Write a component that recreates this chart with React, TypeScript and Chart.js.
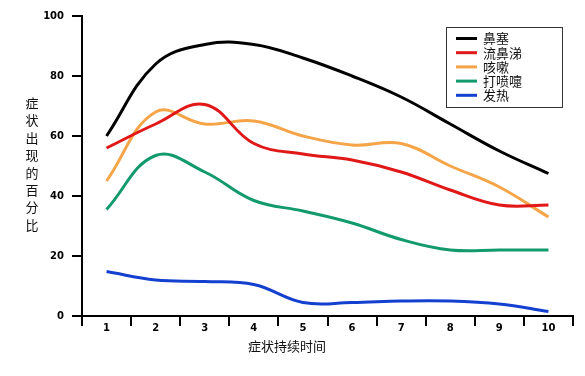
import React, { useEffect, useRef } from 'react';
import { Chart, registerables } from 'chart.js';

Chart.register(...registerables);

const categories = ['1', '2', '3', '4', '5', '6', '7', '8', '9', '10'];
const yTicks = [0, 20, 40, 60, 80, 100];

const seriesNames = ['鼻塞', '流鼻涕', '咳嗽', '打喷嚏', '发热'];
const nasalCongestion = [60, 84, 90.5, 90.5, 86, 80, 73, 64, 55, 47.5];
const runnyNose = [56, 64, 70.5, 57.5, 54, 52, 48, 42, 37, 37];
const cough = [45, 68, 64, 65, 60, 57, 57.5, 50, 43, 33];
const sneezing = [35.5, 53.5, 48, 38.5, 35, 31, 25.5, 22, 22, 22];
const fever = [14.8, 12, 11.5, 10.5, 4.5, 4.5, 5, 5, 4, 1.5];

const colors = ['#000000', '#e01818', '#f5a548', '#139a6c', '#1440d0'];

const yTitle = '症状出现的百分比';
const xTitle = '症状持续时间';

const CJK = '"Noto Sans CJK SC", sans-serif';

const decorPlugin = {
  id: 'decor',
  afterDraw(chart: any) {
    const ctx = chart.ctx;
    ctx.save();
    ctx.fillStyle = '#111';
    ctx.font = `13px ${CJK}`;
    ctx.textAlign = 'center';
    ctx.textBaseline = 'middle';
    // vertical y title
    const chars = Array.from(yTitle);
    chars.forEach((c, i) => {
      ctx.fillText(c, 32, 103 + i * 17.4);
    });
    // x title
    ctx.fillText(xTitle, 287, 346);

    // legend
    const bx = 446, by = 27, bw = 116, bh = 80;
    ctx.fillStyle = '#ffffff';
    ctx.fillRect(bx, by, bw, bh);
    ctx.strokeStyle = '#333';
    ctx.lineWidth = 1;
    ctx.strokeRect(bx + 0.5, by + 0.5, bw, bh);
    ctx.textAlign = 'left';
    seriesNames.forEach((name, i) => {
      const y = 38.5 + i * 14.2;
      ctx.strokeStyle = colors[i];
      ctx.lineWidth = 3;
      ctx.beginPath();
      ctx.moveTo(456, y);
      ctx.lineTo(477, y);
      ctx.stroke();
      ctx.fillStyle = '#111';
      ctx.fillText(name, 483, y);
    });
    ctx.restore();
  },
};

export default function App() {
  const ref = useRef<HTMLCanvasElement>(null);

  useEffect(() => {
    if (!ref.current) return;
    const data = [nasalCongestion, runnyNose, cough, sneezing, fever];
    const chart = new Chart(ref.current, {
      type: 'line',
      data: {
        labels: categories,
        datasets: data.map((d, i) => ({
          label: seriesNames[i],
          data: d,
          borderColor: colors[i],
          backgroundColor: colors[i],
          borderWidth: 3,
          pointRadius: 0,
          tension: 0.4,
          fill: false,
        })),
      },
      options: {
        animation: false,
        responsive: false,
        maintainAspectRatio: false,
        layout: { padding: { top: 16, right: 12, left: 0, bottom: 0 } },
        plugins: {
          legend: { display: false },
          tooltip: { enabled: false },
          title: { display: false },
        },
        scales: {
          x: {
            type: 'category',
            offset: true,
            grid: {
              offset: true,
              drawOnChartArea: false,
              drawTicks: true,
              tickLength: 10,
              color: '#000',
              lineWidth: 2,
            },
            border: { color: '#000', width: 2 },
            ticks: {
              color: '#000',
              font: { family: '"DejaVu Sans", Verdana, sans-serif', size: 10, weight: 'bold' },
              padding: -4,
              maxRotation: 0,
            },
            afterFit(scale: any) {
              scale.height = 60;
            },
          },
          y: {
            min: 0,
            max: 100,
            afterBuildTicks(scale: any) {
              scale.ticks = yTicks.map((v) => ({ value: v }));
            },
            grid: {
              drawOnChartArea: false,
              drawTicks: true,
              tickLength: 10,
              color: '#000',
              lineWidth: 2,
            },
            border: { color: '#000', width: 2 },
            ticks: {
              color: '#000',
              font: { family: '"DejaVu Sans", Verdana, sans-serif', size: 10, weight: 'bold' },
              padding: 8,
            },
            afterFit(scale: any) {
              scale.width = 82;
            },
          },
        },
      },
      plugins: [decorPlugin],
    });
    return () => chart.destroy();
  }, []);

  return (
    <div style={{ position: 'fixed', left: 0, top: 0, width: 585, height: 376, background: '#fff' }}>
      <canvas ref={ref} width={585} height={376} style={{ width: 585, height: 376 }} />
    </div>
  );
}
